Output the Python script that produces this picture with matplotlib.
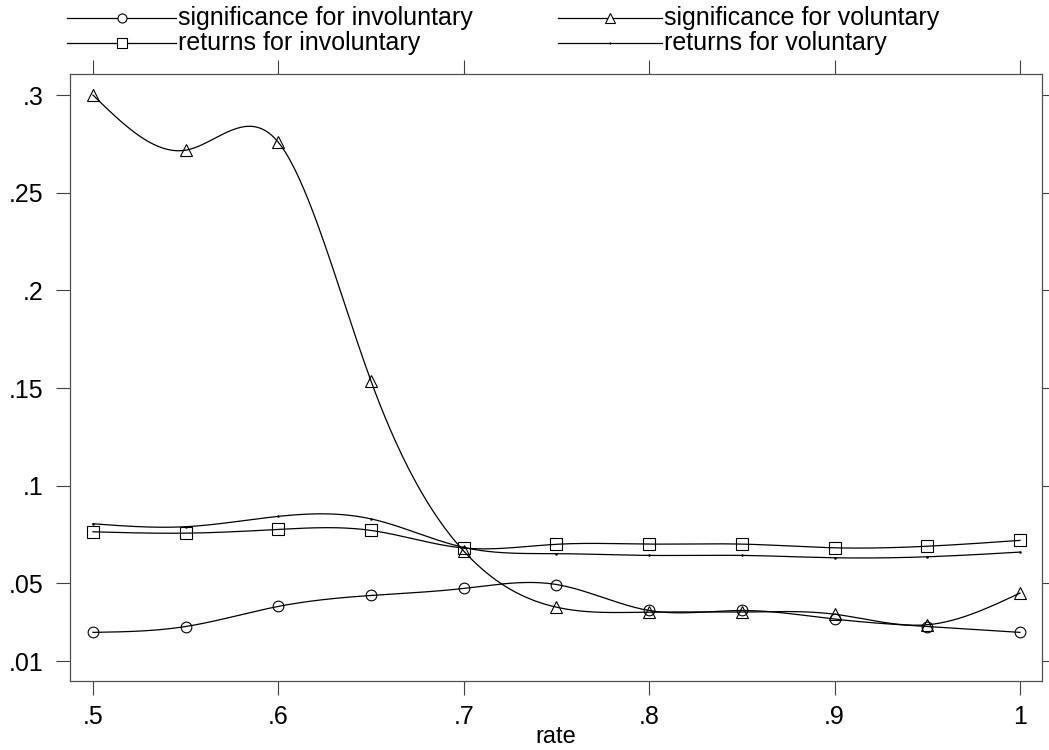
import numpy as np
import matplotlib
matplotlib.use("Agg")
import matplotlib.pyplot as plt
from matplotlib.lines import Line2D

# ---------------- data ----------------
rate = [0.50, 0.55, 0.60, 0.65, 0.70, 0.75, 0.80, 0.85, 0.90, 0.95, 1.00]
sig_invol = [0.0249, 0.0279, 0.0382, 0.0438, 0.0474, 0.0494, 0.0361, 0.0361, 0.0317, 0.0279, 0.0249]
sig_vol = [0.300, 0.2718, 0.2758, 0.1535, 0.0665, 0.0378, 0.0353, 0.0353, 0.0342, 0.0288, 0.0450]
ret_invol = [0.0764, 0.0757, 0.0776, 0.0771, 0.0681, 0.0700, 0.0701, 0.0701, 0.0682, 0.0690, 0.0720]
ret_vol = [0.0805, 0.0790, 0.0843, 0.0830, 0.0684, 0.0652, 0.0643, 0.0643, 0.0631, 0.0636, 0.0660]

series_labels = ["significance for involuntary", "significance for voluntary",
                 "returns for involuntary", "returns for voluntary"]
xtick_vals = [0.5, 0.6, 0.7, 0.8, 0.9, 1.0]
xtick_labels = [".5", ".6", ".7", ".8", ".9", "1"]
ytick_vals = [0.01, 0.05, 0.10, 0.15, 0.20, 0.25, 0.30]
ytick_labels = [".01", ".05", ".1", ".15", ".2", ".25", ".3"]
x_title = "rate"


def natural_spline(x, y, per_seg=40):
    x = np.asarray(x, float)
    y = np.asarray(y, float)
    n = len(x)
    h = np.diff(x)
    A = np.zeros((n, n))
    b = np.zeros(n)
    A[0, 0] = 1.0
    A[-1, -1] = 1.0
    for i in range(1, n - 1):
        A[i, i - 1] = h[i - 1]
        A[i, i] = 2 * (h[i - 1] + h[i])
        A[i, i + 1] = h[i]
        b[i] = 6 * ((y[i + 1] - y[i]) / h[i] - (y[i] - y[i - 1]) / h[i - 1])
    M = np.linalg.solve(A, b)
    xs, ys = [], []
    for i in range(n - 1):
        t = np.linspace(x[i], x[i + 1], per_seg, endpoint=(i == n - 2))
        hi = h[i]
        s = (M[i] * (x[i + 1] - t) ** 3 / (6 * hi)
             + M[i + 1] * (t - x[i]) ** 3 / (6 * hi)
             + (y[i] / hi - M[i] * hi / 6) * (x[i + 1] - t)
             + (y[i + 1] / hi - M[i + 1] * hi / 6) * (t - x[i]))
        xs.append(t)
        ys.append(s)
    return np.concatenate(xs), np.concatenate(ys)


plt.rcParams["font.family"] = ["Liberation Sans", "DejaVu Sans"]
W, H = 1049, 750
fig = plt.figure(figsize=(W / 100, H / 100), dpi=100)
ax = fig.add_axes([70 / W, 1 - 681 / H, (1042 - 70) / W, (681 - 74) / H])

lw = 0.9
mew = 0.8
styles = [
    dict(marker="o", ms=7.7),
    dict(marker="^", ms=8.4),
    dict(marker="s", ms=8.4),
    dict(marker=".", ms=2.0),
]
all_series = [sig_invol, sig_vol, ret_invol, ret_vol]
for data, st in zip(all_series, styles):
    sx, sy = natural_spline(rate, data)
    ax.plot(sx, sy, color="black", lw=lw)
    ax.plot(rate, data, linestyle="none", marker=st["marker"], ms=st["ms"],
            mfc="none", mec="black", mew=mew)

ax.set_xlim(0.4876, 1.0119)
ax.set_ylim(0.0, 0.3108)
ax.set_xticks(xtick_vals)
ax.set_xticklabels(xtick_labels)
ax.set_yticks(ytick_vals)
ax.set_yticklabels(ytick_labels)
ax.tick_params(axis="both", direction="out", length=10, width=0.8, colors="#404040",
               labelcolor="black", labelsize=18)
ax.tick_params(axis="x", top=True, labeltop=False, pad=7)
ax.tick_params(axis="y", right=True, labelright=False, pad=9)
for sp in ax.spines.values():
    sp.set_color("#505050")
    sp.set_linewidth(0.9)
ax.set_xlabel(x_title, fontsize=17)
ax.xaxis.set_label_coords(0.5, -(726 - 681) / (681 - 74))

# ---------------- legend (Stata style, above plot) ----------------
def fx(px):
    return px / W

def fy(py):
    return 1 - py / H

leg_rows = [18, 43, 18, 43]
leg_cols = [(67, 176), (67, 176), (558, 662), (558, 662)]
order = [0, 2, 1, 3]
leg_ms = [6.5, 7.5, 6.8, 1.5]
for k, idx in enumerate(order):
    x0, x1 = leg_cols[k]
    yy = leg_rows[k]
    fig.add_artist(Line2D([fx(x0), fx(x1)], [fy(yy), fy(yy)], transform=fig.transFigure,
                          color="black", lw=lw))
    fig.add_artist(Line2D([fx((x0 + x1) / 2)], [fy(yy)], transform=fig.transFigure,
                          marker=styles[idx]["marker"], ms=leg_ms[idx], mfc="white",
                          mec="black", mew=mew, linestyle="none"))
    fig.text(fx(x1 + 2), fy(yy), series_labels[idx], fontsize=18, va="center", ha="left")

fig.savefig("out.png", dpi=100, facecolor="white")
